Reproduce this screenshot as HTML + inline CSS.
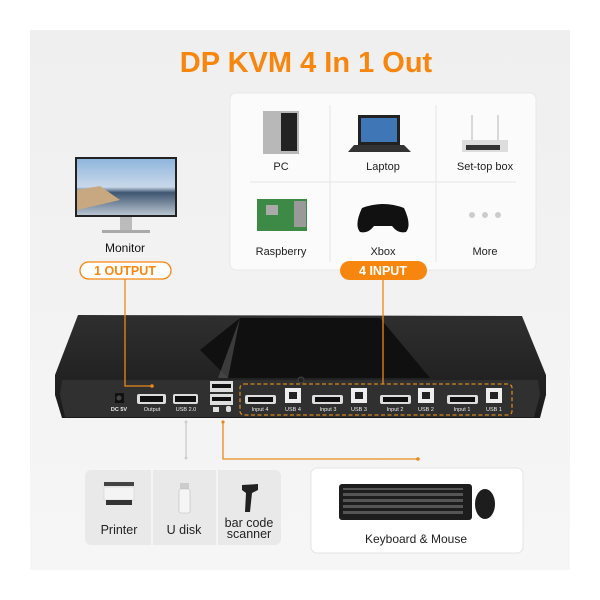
<!DOCTYPE html>
<html><head><meta charset="utf-8"><style>
html,body{margin:0;padding:0;background:#fff;}
svg{display:block;font-family:"Liberation Sans",sans-serif;}
</style></head><body>
<svg width="600" height="600" viewBox="0 0 600 600" xmlns="http://www.w3.org/2000/svg">
<defs>
<linearGradient id="bg" x1="0" y1="0" x2="0" y2="1"><stop offset="0" stop-color="#efefef"/><stop offset="1" stop-color="#f6f6f6"/></linearGradient>
<linearGradient id="scr" x1="0" y1="0" x2="0" y2="1"><stop offset="0" stop-color="#8fb6dc"/><stop offset="0.5" stop-color="#c9d8ea"/><stop offset="0.6" stop-color="#3e5570"/><stop offset="1" stop-color="#b8c4d0"/></linearGradient>
<linearGradient id="body" x1="0" y1="0" x2="0" y2="1"><stop offset="0" stop-color="#2f2f2f"/><stop offset="1" stop-color="#1a1a1a"/></linearGradient>
</defs>
<rect x="30" y="30" width="540" height="540" fill="url(#bg)"/>
<text x="306" y="72" text-anchor="middle" font-size="29" font-weight="bold" fill="#f7860f">DP KVM 4 In 1 Out</text>

<rect x="230" y="93" width="306" height="177" rx="6" fill="#fbfbfb" stroke="#e8e8e8"/>
<line x1="330" y1="105" x2="330" y2="262" stroke="#e6e6e6"/>
<line x1="436" y1="105" x2="436" y2="262" stroke="#e6e6e6"/>
<line x1="250" y1="182" x2="516" y2="182" stroke="#e6e6e6"/>
<rect x="263" y="111" width="36" height="43" fill="#b8b8b8"/><rect x="281" y="113" width="16" height="38" fill="#222"/>
<text x="281" y="170" text-anchor="middle" font-size="11" fill="#222">PC</text>
<rect x="358" y="115" width="42" height="30" fill="#222"/><rect x="361" y="118" width="36" height="24" fill="#3f76b6"/>
<polygon points="354,145 404,145 411,152 348,152" fill="#333"/>
<text x="383" y="170" text-anchor="middle" font-size="11" fill="#222">Laptop</text>
<line x1="472" y1="115" x2="472" y2="142" stroke="#ccc" stroke-width="1.5"/><line x1="498" y1="115" x2="498" y2="142" stroke="#ccc" stroke-width="1.5"/>
<rect x="462" y="140" width="46" height="12" fill="#ddd"/><rect x="466" y="145" width="34" height="5" fill="#333"/>
<text x="485" y="170" text-anchor="middle" font-size="11" fill="#222">Set-top box</text>
<rect x="257" y="199" width="50" height="32" fill="#3c8a45"/><rect x="266" y="205" width="12" height="10" fill="#aaa"/><rect x="294" y="201" width="12" height="26" fill="#999"/>
<text x="281" y="255" text-anchor="middle" font-size="11" fill="#222">Raspberry</text>
<path d="M362 208 Q383 200 404 208 Q412 225 406 232 Q398 234 392 226 L374 226 Q368 234 360 232 Q354 225 362 208Z" fill="#111"/>
<text x="383" y="255" text-anchor="middle" font-size="11" fill="#222">Xbox</text>
<circle cx="472" cy="215" r="3" fill="#ccc"/><circle cx="485" cy="215" r="3" fill="#ccc"/><circle cx="498" cy="215" r="3" fill="#ccc"/>
<text x="485" y="255" text-anchor="middle" font-size="11" fill="#222">More</text>
<rect x="340" y="261" width="87" height="19" rx="9.5" fill="#f7860f"/>
<text x="383" y="275" text-anchor="middle" font-size="12.5" font-weight="bold" fill="#fff">4 INPUT</text>

<rect x="75" y="157" width="102" height="60" fill="#222"/><rect x="77" y="159" width="98" height="56" fill="url(#scr)"/>
<polygon points="77,190 100,186 120,200 77,210" fill="#c8a880"/>
<rect x="120" y="217" width="12" height="14" fill="#bbb"/><rect x="102" y="230" width="48" height="3" fill="#aaa"/>
<text x="125" y="252" text-anchor="middle" font-size="12" fill="#111">Monitor</text>
<rect x="80" y="262" width="91" height="17" rx="8.5" fill="#fff" stroke="#f7860f" stroke-width="1.3"/>
<text x="125" y="275" text-anchor="middle" font-size="12.5" font-weight="bold" fill="#f7860f">1 OUTPUT</text>

<polygon points="78,315 522,316 546,375 546,395 540,418 62,418 55,395 55,375" fill="url(#body)"/>
<polygon points="240,318 380,318 430,378 228,378 200,350" fill="#101010"/>
<polygon points="240,318 228,378 218,378" fill="#666" opacity="0.5"/>
<polygon points="62,380 538,380 540,395 534,417 65,417 60,395" fill="#303030"/>
<circle cx="301" cy="380" r="3" fill="#222" stroke="#444"/>

<polyline points="125,279 125,386 152,386" fill="none" stroke="#e98a1c" stroke-width="1.3"/>
<circle cx="152" cy="386" r="1.8" fill="#e98a1c"/>
<line x1="383" y1="280" x2="383" y2="384" stroke="#e98a1c" stroke-width="1.3"/>

<rect x="115" y="393" width="9" height="10" fill="#111"/><circle cx="119" cy="398" r="2.5" fill="#444"/>
<text x="119" y="411" text-anchor="middle" font-size="5.5" font-weight="bold" fill="#eee">DC 5V</text>
<rect x="137" y="394" width="29" height="10" rx="2" fill="#ddd"/><rect x="140" y="396" width="23" height="6" fill="#111"/>
<text x="152" y="411" text-anchor="middle" font-size="5.5" fill="#eee">Output</text>
<rect x="173" y="394" width="25" height="10" rx="2" fill="#ddd"/><rect x="175" y="396" width="21" height="6" fill="#111"/>
<text x="186" y="411" text-anchor="middle" font-size="5.5" fill="#eee">USB 2.0</text>
<rect x="210" y="381" width="23" height="11" fill="#ddd"/><rect x="212" y="384" width="19" height="4" fill="#111"/>
<rect x="210" y="394" width="23" height="11" fill="#ddd"/><rect x="212" y="397" width="19" height="4" fill="#111"/>
<rect x="213" y="407" width="6" height="5" fill="#ddd"/><rect x="226" y="406" width="5" height="6" rx="2" fill="#ddd"/>
<rect x="240" y="384" width="272" height="31" rx="4" fill="none" stroke="#d4861f" stroke-width="1.3" stroke-dasharray="4,2.5"/>
<g fill="#eee" font-size="5.5" text-anchor="middle">
<rect x="245" y="395" width="31" height="9" rx="2" fill="#ddd"/><rect x="248" y="397" width="25" height="5" fill="#111"/><text x="260" y="411">Input 4</text>
<rect x="285" y="388" width="16" height="15" fill="#eee"/><rect x="289" y="392" width="8" height="7" fill="#222"/><text x="293" y="411">USB 4</text>
<rect x="312" y="395" width="31" height="9" rx="2" fill="#ddd"/><rect x="315" y="397" width="25" height="5" fill="#111"/><text x="328" y="411">Input 3</text>
<rect x="351" y="388" width="16" height="15" fill="#eee"/><rect x="355" y="392" width="8" height="7" fill="#222"/><text x="359" y="411">USB 3</text>
<rect x="380" y="395" width="31" height="9" rx="2" fill="#ddd"/><rect x="383" y="397" width="25" height="5" fill="#111"/><text x="395" y="411">Input 2</text>
<rect x="418" y="388" width="16" height="15" fill="#eee"/><rect x="422" y="392" width="8" height="7" fill="#222"/><text x="426" y="411">USB 2</text>
<rect x="447" y="395" width="31" height="9" rx="2" fill="#ddd"/><rect x="450" y="397" width="25" height="5" fill="#111"/><text x="462" y="411">Input 1</text>
<rect x="486" y="388" width="16" height="15" fill="#eee"/><rect x="490" y="392" width="8" height="7" fill="#222"/><text x="494" y="411">USB 1</text>
</g>

<line x1="186" y1="422" x2="186" y2="458" stroke="#ccc" stroke-width="1.3"/>
<circle cx="186" cy="422" r="1.5" fill="#ccc"/><circle cx="186" cy="458" r="1.5" fill="#ccc"/>
<polyline points="223,422 223,459 418,459" fill="none" stroke="#e98a1c" stroke-width="1.3"/>
<circle cx="223" cy="422" r="1.6" fill="#e98a1c"/><circle cx="418" cy="459" r="1.8" fill="#e98a1c"/>

<rect x="85" y="470" width="196" height="75" rx="6" fill="#e9e9e9"/>
<line x1="152" y1="470" x2="152" y2="545" stroke="#f7f7f7" stroke-width="1.5"/>
<line x1="217" y1="470" x2="217" y2="545" stroke="#f7f7f7" stroke-width="1.5"/>
<rect x="104" y="482" width="30" height="4" fill="#444"/><rect x="104" y="487" width="30" height="13" fill="#f4f4f4" stroke="#ccc" stroke-width="0.5"/><rect x="106" y="500" width="26" height="5" fill="#333"/>
<text x="119" y="534" text-anchor="middle" font-size="12.5" fill="#222">Printer</text>
<rect x="180" y="483" width="9" height="6" fill="#ccc"/><rect x="179" y="489" width="11" height="24" rx="2" fill="#f5f5f5" stroke="#bbb" stroke-width="0.6"/>
<text x="184" y="534" text-anchor="middle" font-size="12.5" fill="#222">U disk</text>
<path d="M242 485 L258 484 L258 490 L252 493 L250 512 L245 512 L246 493 L242 490Z" fill="#222"/>
<text x="249" y="527" text-anchor="middle" font-size="12.5" fill="#222">bar code</text>
<text x="249" y="538" text-anchor="middle" font-size="12.5" fill="#222">scanner</text>

<rect x="311" y="468" width="212" height="85" rx="6" fill="#fff" stroke="#e4e4e4"/>
<rect x="339" y="484" width="133" height="36" rx="3" fill="#1d1d1d"/>
<g fill="#555"><rect x="343" y="488" width="120" height="2"/><rect x="343" y="493" width="120" height="3"/><rect x="343" y="499" width="120" height="3"/><rect x="343" y="505" width="120" height="3"/><rect x="343" y="511" width="120" height="3"/></g>
<ellipse cx="485" cy="504" rx="10" ry="15" fill="#1d1d1d"/>
<text x="416" y="543" text-anchor="middle" font-size="12" fill="#222">Keyboard &amp; Mouse</text>
</svg>
</body></html>
